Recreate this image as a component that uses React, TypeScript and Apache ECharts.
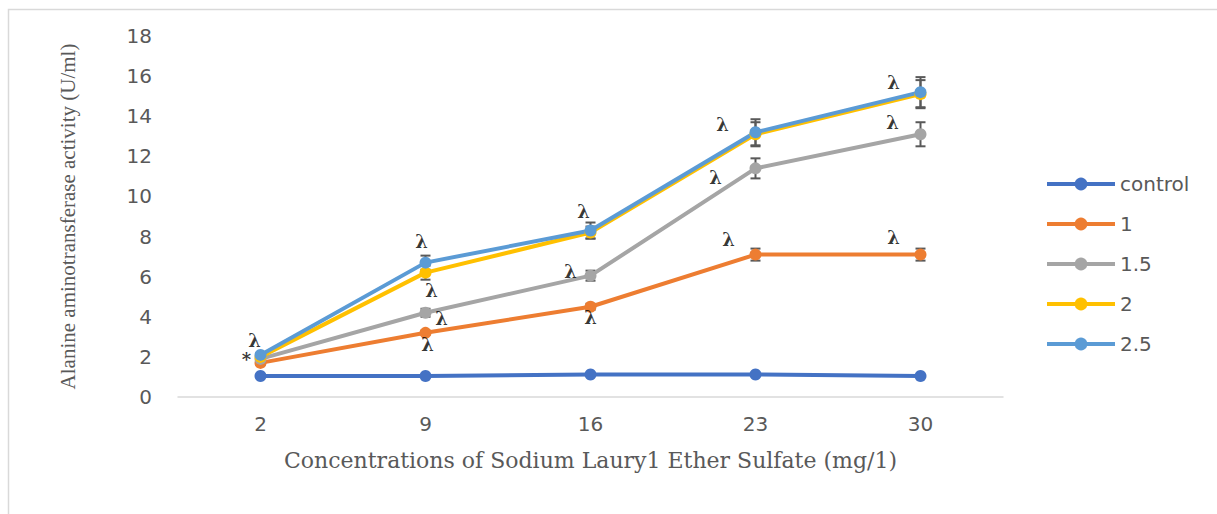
import React, { useEffect, useRef } from "react";
import * as echarts from "echarts";

const categories = ["2", "9", "16", "23", "30"];
const seriesNames = ["control", "1", "1.5", "2", "2.5"];
const controlValues = [1.05, 1.05, 1.12, 1.12, 1.05];
const dose1Values = [1.7, 3.2, 4.5, 7.1, 7.1];
const dose15Values = [1.9, 4.2, 6.05, 11.4, 13.1];
const dose2Values = [2.0, 6.2, 8.2, 13.1, 15.1];
const dose25Values = [2.1, 6.7, 8.3, 13.2, 15.2];
const controlErr = [0, 0, 0, 0, 0];
const dose1Err = [0.1, 0.1, 0.15, 0.3, 0.3];
const dose15Err = [0.1, 0.2, 0.25, 0.5, 0.6];
const dose2Err = [0.1, 0.35, 0.3, 0.6, 0.7];
const dose25Err = [0.1, 0.35, 0.4, 0.65, 0.75];
const yTicks = [0, 2, 4, 6, 8, 10, 12, 14, 16, 18];

const allValues = [controlValues, dose1Values, dose15Values, dose2Values, dose25Values];
const allErrors = [controlErr, dose1Err, dose15Err, dose2Err, dose25Err];
const colors = ["#4472C4", "#ED7D31", "#A5A5A5", "#FFC000", "#5B9BD5"];

// [series index, category index, text, label dx, label dy]
const annotations: [number, number, string, number, number][] = [
  [4, 0, "λ", -6, -14],
  [3, 0, "*", -14, 3],
  [4, 1, "λ", -4, -21],
  [2, 1, "λ", 6, -22],
  [2, 1, "λ", 16, 6],
  [1, 1, "λ", 2, 12],
  [4, 2, "λ", -7, -19],
  [2, 2, "λ", -20, -4],
  [1, 2, "λ", 0, 11],
  [4, 3, "λ", -33, -8],
  [2, 3, "λ", -40, 9],
  [1, 3, "λ", -27, -15],
  [4, 4, "λ", -27, -10],
  [2, 4, "λ", -28, -12],
  [1, 4, "λ", -27, -17],
];

export default function App() {
  const ref = useRef<HTMLDivElement>(null);
  useEffect(() => {
    if (!ref.current) return;
    const chart = echarts.init(ref.current, null, { renderer: "svg" });
    const lineSeries = seriesNames.map((name, s) => ({
      name,
      type: "line",
      data: allValues[s],
      symbol: "circle",
      symbolSize: 12,
      z: 3,
      lineStyle: { width: 4, color: colors[s] },
      itemStyle: { color: colors[s] },
    }));
    const errSeries = seriesNames.map((name, s) => ({
      name: name + "-err",
      type: "custom",
      z: 2,
      silent: true,
      data: allValues[s].map((v, i) => [i, v - allErrors[s][i], v + allErrors[s][i]]),
      renderItem: (params: any, api: any) => {
        const i = api.value(0);
        const lo = api.coord([i, api.value(1)]);
        const hi = api.coord([i, api.value(2)]);
        if (Math.abs(lo[1] - hi[1]) < 1) return { type: "group", children: [] };
        const w = 5;
        const st = { stroke: "#595959", lineWidth: 2 };
        return {
          type: "group",
          children: [
            { type: "line", shape: { x1: lo[0], y1: lo[1], x2: hi[0], y2: hi[1] }, style: st },
            { type: "line", shape: { x1: lo[0] - w, y1: lo[1], x2: lo[0] + w, y2: lo[1] }, style: st },
            { type: "line", shape: { x1: hi[0] - w, y1: hi[1], x2: hi[0] + w, y2: hi[1] }, style: st },
          ],
        };
      },
    }));
    const annoSeries = {
      name: "annotations",
      type: "scatter",
      symbolSize: 1,
      z: 5,
      silent: true,
      itemStyle: { color: "rgba(0,0,0,0)" },
      data: annotations.map(([s, i, t, dx, dy]) => ({
        value: [i, allValues[s][i]],
        label: {
          show: true,
          formatter: t,
          position: "inside",
          offset: [dx, dy],
          color: "#000",
          fontFamily: "DejaVu Serif",
          fontWeight: "bold",
          fontSize: 18,
        },
      })),
    };
    chart.setOption({
      animation: false,
      graphic: [
        {
          type: "rect",
          shape: { x: 8.5, y: 9.5, width: 1400, height: 700 },
          style: { fill: "none", stroke: "#D9D9D9", lineWidth: 1.5 },
          silent: true,
        },
      ],
      legend: {
        data: seriesNames,
        orient: "vertical",
        left: 1040,
        top: 169,
        itemWidth: 68,
        itemHeight: 16,
        itemGap: 20,
        lineStyle: { width: 4 },
        textStyle: { color: "#595959", fontFamily: "DejaVu Sans", fontSize: 20, lineHeight: 16 },
      },
      grid: { left: 178, right: 214, top: 36, bottom: 117, containLabel: false },
      xAxis: {
        type: "category",
        data: categories,
        boundaryGap: true,
        axisLine: { lineStyle: { color: "#D9D9D9", width: 1.5 } },
        axisTick: { show: false },
        axisLabel: { color: "#595959", fontFamily: "DejaVu Sans", fontSize: 20, margin: 17 },
        name: "Concentrations of Sodium Laury1 Ether Sulfate (mg/1)",
        nameLocation: "middle",
        nameGap: 52,
        nameTextStyle: { color: "#595959", fontFamily: "DejaVu Serif", fontSize: 22 },
      },
      yAxis: {
        type: "value",
        min: yTicks[0],
        max: yTicks[yTicks.length - 1],
        interval: 2,
        axisLine: { show: false },
        axisTick: { show: false },
        splitLine: { show: false },
        axisLabel: { color: "#595959", fontFamily: "DejaVu Sans", fontSize: 20, margin: 26 },
        name: "Alanine aminotransferase activity (U/ml)",
        nameLocation: "middle",
        nameGap: 100,
        nameTextStyle: { color: "#595959", fontFamily: "Liberation Serif", fontSize: 21 },
      },
      series: [...errSeries, ...lineSeries, annoSeries],
    });
    return () => chart.dispose();
  }, []);
  return (
    <div
      ref={ref}
      style={{ position: "fixed", left: 0, top: 0, width: 1217, height: 514, background: "#fff" }}
    />
  );
}
